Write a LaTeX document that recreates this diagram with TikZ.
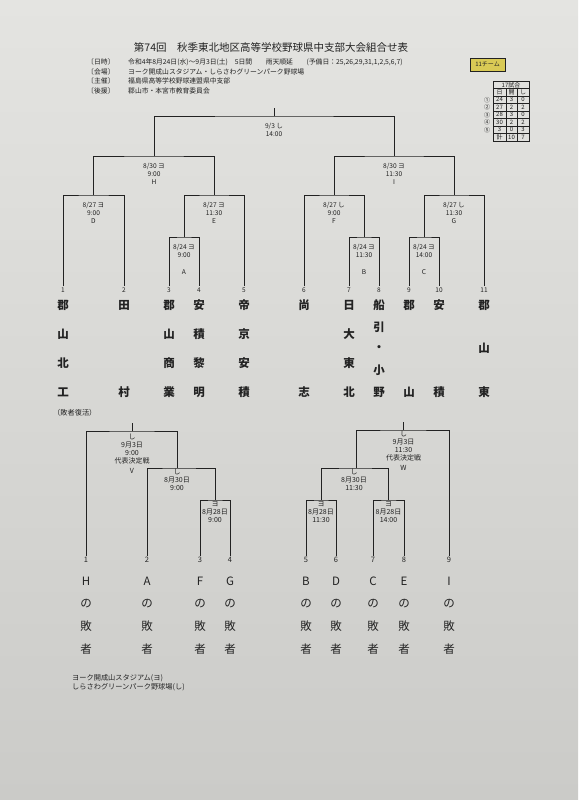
\documentclass[tikz,border=0pt]{standalone}
\usepackage{fontspec}
\setmainfont{Noto Sans CJK JP}
\usetikzlibrary{positioning}
\definecolor{SheetTop}{HTML}{E4E4E1}
\definecolor{SheetBottom}{HTML}{CBCBC8}
\definecolor{SheetInk}{HTML}{222222}
\definecolor{TagYellow}{HTML}{D9CA55}

% characters of one name, stacked under a seed number
\newcommand{\stackname}[6]{%
  \foreach \ch [count=\k from 0] in {#6}
    \node[#1] (#2-\k) at ([yshift={-#3-#4*\k/(#5-1)}]#2.center) {\ch};
}

\begin{document}
\begin{tikzpicture}[x=1pt, y=-1pt,
  every node/.style={text=SheetInk, inner sep=1pt, align=center},
  bracket/.style={draw=SheetInk, line width=1pt},
  seedno/.style={font=\fontsize{6.5}{7}\selectfont},
  loseno/.style={font=\fontsize{7.5}{8}\selectfont},
  gamelabel/.style={font=\fontsize{6.6}{8}\selectfont},
  loselabel/.style={font=\fontsize{7}{8}\selectfont},
  teamchar/.style={font=\fontsize{11.5}{12}\selectfont\bfseries},
  loserchar/.style={font=\fontsize{11.5}{12}\selectfont},
  infotext/.style={font=\fontsize{6.8}{7}\selectfont, anchor=west},
  tablerule/.style={draw=SheetInk, line width=0.6pt},
  cell/.style={font=\fontsize{6}{7}\selectfont}]

  \useasboundingbox (0,0) rectangle (578,800);
  \shade[top color=SheetTop, bottom color=SheetBottom] (0,0) rectangle (578,800);

  % heading
  \node[font=\fontsize{10.5}{12}\selectfont] (title) at (271,47) {第74回　秋季東北地区高等学校野球県中支部大会組合せ表};
  \node[infotext] (when) at (86,62) {〔日時〕};
  \node[infotext] (where) at (86,71.5) {〔会場〕};
  \node[infotext] (host) at (86,81) {〔主催〕};
  \node[infotext] (support) at (86,90.5) {〔後援〕};
  \node[infotext] (whenText) at (127,62) {令和4年8月24日(水)～9月3日(土)　5日間　　雨天順延　　(予備日：25,26,29,31,1,2,5,6,7)};
  \node[infotext] (whereText) at (127,71.5) {ヨーク開成山スタジアム・しらさわグリーンパーク野球場};
  \node[infotext] (hostText) at (127,81) {福島県高等学校野球連盟県中支部};
  \node[infotext] (supportText) at (127,90.5) {郡山市・本宮市教育委員会};

  \node[draw=SheetInk, fill=TagYellow, minimum width=35pt, minimum height=13pt, font=\fontsize{6}{7}\selectfont] (teams) at (487.5,64.5) {11チーム};

  % game count table
  \draw[tablerule] (493,81) rectangle (529,141);
  \foreach \y in {88.5,96,103.5,111,118.5,126,133.5}
    \draw[tablerule] (493,\y) -- (529,\y);
  \draw[tablerule] (506,88.5) -- (506,141);
  \draw[tablerule] (517,88.5) -- (517,141);
  \node[cell] (games) at (511,84.75) {17試合};
  \node[cell] (hdDay) at (499.5,92.25) {日};
  \node[cell] (hdK) at (511.5,92.25) {開};
  \node[cell] (hdS) at (523,92.25) {し};
  \foreach \mark/\d/\kk/\ss [count=\r from 2] in {①/24/3/0, ②/27/2/2, ③/28/3/0, ④/30/2/2, ⑤/3/0/3} {
    \node[cell] (round\r) at (487,{81+7.5*(\r+0.5)}) {\mark};
    \node[cell] (day\r) at (499.5,{81+7.5*(\r+0.5)}) {\d};
    \node[cell] (kai\r) at (511.5,{81+7.5*(\r+0.5)}) {\kk};
    \node[cell] (shi\r) at (523,{81+7.5*(\r+0.5)}) {\ss};
  }
  \node[cell] (sumLabel) at (499.5,137.25) {計};
  \node[cell] (sumK) at (511.5,137.25) {10};
  \node[cell] (sumS) at (523,137.25) {7};

  % main draw
  \foreach \n/\x in {1/63,2/124,3/169,4/199,5/244,6/304,7/349,8/379,9/409,10/439,11/484}
    \node[seedno] (t\n) at (\x,290) {\n};

  \coordinate (mA) at (184,237);
  \coordinate (mB) at (364,237);
  \coordinate (mC) at (424,237);
  \coordinate (mD) at (93.5,195);
  \coordinate (mE) at (214,195);
  \coordinate (mF) at (334,195);
  \coordinate (mG) at (454,195);
  \coordinate (mH) at (154,156);
  \coordinate (mI) at (394,156);
  \coordinate (mFinal) at (274,116);
  \coordinate (champ) at (274,108);

  \draw[bracket] (t3.north) |- (mA) -| (t4.north);
  \draw[bracket] (t7.north) |- (mB) -| (t8.north);
  \draw[bracket] (t9.north) |- (mC) -| (t10.north);
  \draw[bracket] (t1.north) |- (mD) -| (t2.north);
  \draw[bracket] (mA) |- (mE) -| (t5.north);
  \draw[bracket] (t6.north) |- (mF) -| (mB);
  \draw[bracket] (mC) |- (mG) -| (t11.north);
  \draw[bracket] (mD) |- (mH) -| (mE);
  \draw[bracket] (mF) |- (mI) -| (mG);
  \draw[bracket] (mH) |- (mFinal) -| (mI);
  \draw[bracket] (mFinal) -- (champ);

  \node[gamelabel, below=6pt of mFinal] (gFinal) {9/3 し\\14:00};
  \node[gamelabel, below=6pt of mH] (gH) {8/30 ヨ\\9:00\\H};
  \node[gamelabel, below=6pt of mI] (gI) {8/30 ヨ\\11:30\\I};
  \node[gamelabel, below=6pt of mD] (gD) {8/27 ヨ\\9:00\\D};
  \node[gamelabel, below=6pt of mE] (gE) {8/27 ヨ\\11:30\\E};
  \node[gamelabel, below=6pt of mF] (gF) {8/27 し\\9:00\\F};
  \node[gamelabel, below=6pt of mG] (gG) {8/27 し\\11:30\\G};
  \node[gamelabel, below=6pt of mA] (gA) {8/24 ヨ\\9:00\\[9pt]A};
  \node[gamelabel, below=6pt of mB] (gB) {8/24 ヨ\\11:30\\[9pt]B};
  \node[gamelabel, below=6pt of mC] (gC) {8/24 ヨ\\14:00\\[9pt]C};

  \stackname{teamchar}{t1}{15pt}{87pt}{4}{郡,山,北,工}
  \stackname{teamchar}{t2}{15pt}{87pt}{2}{田,村}
  \stackname{teamchar}{t3}{15pt}{87pt}{4}{郡,山,商,業}
  \stackname{teamchar}{t4}{15pt}{87pt}{4}{安,積,黎,明}
  \stackname{teamchar}{t5}{15pt}{87pt}{4}{帝,京,安,積}
  \stackname{teamchar}{t6}{15pt}{87pt}{2}{尚,志}
  \stackname{teamchar}{t7}{15pt}{87pt}{4}{日,大,東,北}
  \stackname{teamchar}{t8}{15pt}{87pt}{5}{船,引,・,小,野}
  \stackname{teamchar}{t9}{15pt}{87pt}{2}{郡,山}
  \stackname{teamchar}{t10}{15pt}{87pt}{2}{安,積}
  \stackname{teamchar}{t11}{15pt}{87pt}{3}{郡,山,東}

  % repechage
  \node[font=\fontsize{7.2}{8}\selectfont, anchor=west] (revival) at (52,413) {（敗者復活）};

  \foreach \n/\x in {1/86,2/147,3/200,4/230,5/306,6/336,7/373,8/404,9/449}
    \node[loseno] (l\n) at (\x,560) {\n};

  \coordinate (rL28) at (215,500);
  \coordinate (rL30) at (177,468);
  \coordinate (rV) at (132,431);
  \coordinate (rVtop) at (132,423);
  \coordinate (rR28a) at (321,500);
  \coordinate (rR28b) at (388.5,500);
  \coordinate (rR30) at (356,468);
  \coordinate (rW) at (403.5,430);
  \coordinate (rWtop) at (403.5,422);

  \draw[bracket] (l3.north) |- (rL28) -| (l4.north);
  \draw[bracket] (l2.north) |- (rL30) -| (rL28);
  \draw[bracket] (l1.north) |- (rV) -| (rL30);
  \draw[bracket] (rV) -- (rVtop);
  \draw[bracket] (l5.north) |- (rR28a) -| (l6.north);
  \draw[bracket] (l7.north) |- (rR28b) -| (l8.north);
  \draw[bracket] (rR28a) |- (rR30) -| (rR28b);
  \draw[bracket] (rR30) |- (rW) -| (l9.north);
  \draw[bracket] (rW) -- (rWtop);

  \node[loselabel, below=1.5pt of rV] (gV) {し\\9月3日\\9:00\\代表決定戦\\[2pt]V};
  \node[loselabel, below=0pt of rL30] (gL30) {し\\8月30日\\9:00};
  \node[loselabel, below=0pt of rL28] (gL28) {ヨ\\8月28日\\9:00};
  \node[loselabel, below=0pt of rW] (gW) {し\\9月3日\\11:30\\代表決定戦\\[2pt]W};
  \node[loselabel, below=0pt of rR30, xshift=-2pt] (gR30) {し\\8月30日\\11:30};
  \node[loselabel, below=0pt of rR28a] (gR28a) {ヨ\\8月28日\\11:30};
  \node[loselabel, below=0pt of rR28b] (gR28b) {ヨ\\8月28日\\14:00};

  \stackname{loserchar}{l1}{21pt}{68pt}{4}{H,の,敗,者}
  \stackname{loserchar}{l2}{21pt}{68pt}{4}{A,の,敗,者}
  \stackname{loserchar}{l3}{21pt}{68pt}{4}{F,の,敗,者}
  \stackname{loserchar}{l4}{21pt}{68pt}{4}{G,の,敗,者}
  \stackname{loserchar}{l5}{21pt}{68pt}{4}{B,の,敗,者}
  \stackname{loserchar}{l6}{21pt}{68pt}{4}{D,の,敗,者}
  \stackname{loserchar}{l7}{21pt}{68pt}{4}{C,の,敗,者}
  \stackname{loserchar}{l8}{21pt}{68pt}{4}{E,の,敗,者}
  \stackname{loserchar}{l9}{21pt}{68pt}{4}{I,の,敗,者}

  % venues
  \node[font=\fontsize{7.2}{8}\selectfont, anchor=west] (venueY) at (71,678) {ヨーク開成山スタジアム(ヨ)};
  \node[font=\fontsize{7.2}{8}\selectfont, anchor=west] (venueS) at (71,687.5) {しらさわグリーンパーク野球場(し)};
\end{tikzpicture}
\end{document}
